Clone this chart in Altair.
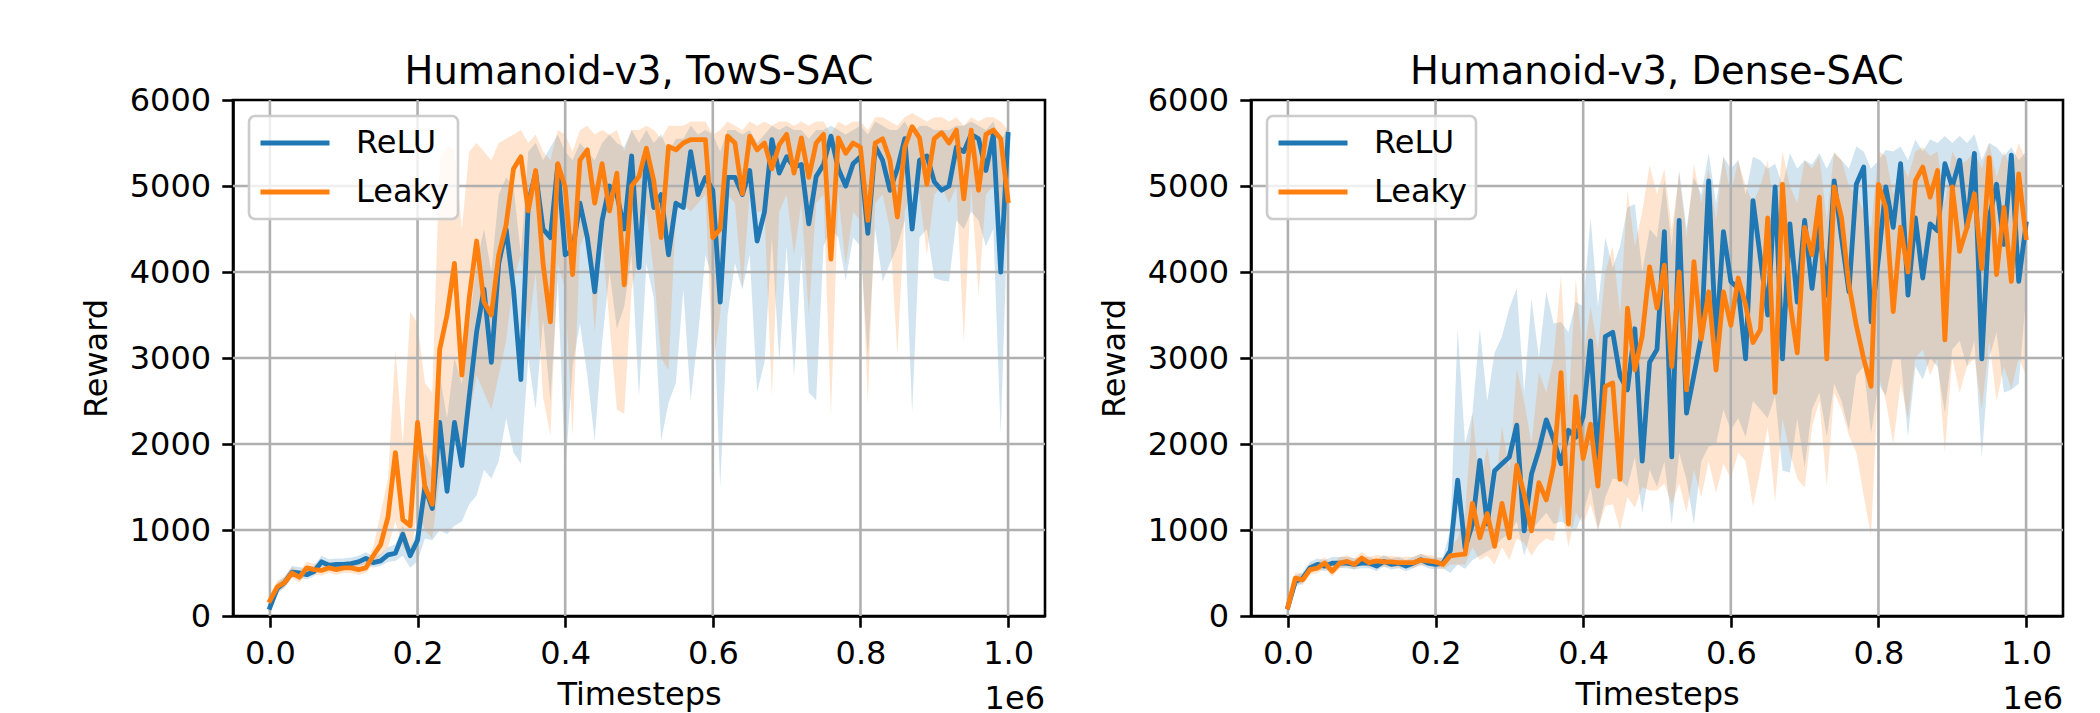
import altair as alt
import pandas as pd

# ---------------- data ----------------
STEPS = list(range(0, 1000001, 10000))          # evaluation timesteps
X_TICKS = [0, 200000, 400000, 600000, 800000, 1000000]
Y_TICKS = [0, 1000, 2000, 3000, 4000, 5000, 6000]
GRID_Y = [1000, 2000, 3000, 4000, 5000]
SERIES = ["ReLU", "Leaky"]
COLORS = ["#1f77b4", "#ff7f0e"]
PANEL_TITLES = ["Humanoid-v3, TowS-SAC", "Humanoid-v3, Dense-SAC"]

# ---- Panel 1: TowS-SAC ----
tows_relu = [100, 320, 390, 510, 500, 480, 520, 630, 590, 600,
             600, 610, 630, 670, 620, 640, 710, 730, 950, 700,
             880, 1500, 1250, 2250, 1450, 2250, 1750, 2550, 3300, 3800,
             2950, 4100, 4500, 3800, 2750, 4800, 5150, 4500, 4400, 5250,
             4200, 4250, 4800, 4400, 3770, 4600, 5000, 4900, 4500, 5350,
             4050, 5350, 4750, 4900, 4200, 4800, 4750, 5400, 4900, 5100,
             4950, 3650, 5100, 5100, 4900, 5180, 4360, 4700, 5540, 5150,
             5340, 5220, 5250, 4560, 5110, 5250, 5580, 5200, 5000, 5260,
             5340, 4450, 5460, 5300, 4950, 5200, 5550, 4500, 5300, 5350,
             5050, 4950, 5000, 5450, 5400, 5600, 5550, 5180, 5600, 4000,
             5600]
tows_relu_lo = [45, 260, 330, 450, 445, 425, 465, 570, 535, 545,
                545, 555, 575, 610, 565, 580, 630, 640, 700, 560,
                640, 900, 880, 1000, 950, 1050, 1100, 1300, 1400, 1700,
                1600, 1800, 2300, 1900, 1770, 3000, 2400, 3450, 2500, 3900,
                1650, 2900, 3400, 2800, 2040, 3180, 4000, 3340, 3600, 4200,
                2550, 4100, 3700, 2040, 2480, 2710, 3800, 2510, 3260, 4200,
                3900, 1490, 3500, 4100, 3800, 4200, 2600, 2950, 4400, 2950,
                4300, 2790, 4200, 2600, 2510, 4300, 4500, 4400, 3900, 4400,
                4300, 3000, 4500, 3890, 4100, 4300, 4600, 2360, 4400, 4500,
                3930, 3900, 3890, 4600, 4500, 4700, 4600, 4300, 4500, 2120,
                4800]
tows_relu_hi = [170, 390, 460, 580, 570, 550, 590, 700, 660, 670,
                670, 680, 700, 740, 690, 720, 800, 830, 1050, 800,
                1000, 1900, 1700, 2800, 2300, 3000, 2700, 3400, 4100, 4500,
                4000, 4900, 5100, 5000, 4200, 5400, 5500, 5300, 5450, 5600,
                5400, 5300, 5500, 5400, 5300, 5500, 5600, 5500, 5450, 5650,
                5500, 5650, 5500, 5600, 5400, 5550, 5550, 5700, 5600, 5650,
                5600, 5400, 5650, 5650, 5600, 5650, 5500, 5600, 5700, 5650,
                5700, 5650, 5650, 5550, 5650, 5650, 5700, 5650, 5600, 5650,
                5700, 5600, 5750, 5700, 5650, 5650, 5750, 5600, 5700, 5700,
                5650, 5650, 5650, 5700, 5700, 5750, 5700, 5650, 5750, 5500,
                5700]
tows_leaky = [180, 340, 390, 500, 450, 560, 540, 530, 560, 540,
              560, 560, 540, 560, 700, 830, 1150, 1900, 1120, 1050,
              2250, 1500, 1300, 3100, 3500, 4100, 2800, 3700, 4360, 3650,
              3500, 4200, 4550, 5200, 5340, 4710, 5180, 4100, 3420, 5260,
              4990, 3970, 5300, 5420, 4800, 5260, 4710, 5150, 3850, 5000,
              5110, 5440, 5060, 4400, 5460, 5420, 5500, 5540, 5540, 5540,
              4400, 4500, 5580, 5500, 4910, 5580, 5420, 5500, 5200, 5480,
              5600, 5150, 5560, 5100, 5500, 5600, 4150, 5560, 5380, 5500,
              5450, 4600, 5500, 5550, 5300, 4640, 5450, 5690, 5560, 5020,
              5550, 5620, 5500, 5650, 4850, 5650, 4950, 5600, 5650, 5550,
              4830]
tows_leaky_lo = [120, 280, 330, 440, 390, 500, 480, 470, 500, 480,
                 500, 500, 480, 500, 600, 700, 800, 1100, 800, 700,
                 1200, 1000, 900, 1600, 1700, 2300, 1700, 2300, 2800, 2600,
                 2400, 2800, 3200, 3900, 4200, 3300, 4000, 2550, 2100, 4100,
                 3800, 2080, 4300, 4500, 3300, 4400, 3400, 2400, 2350, 3800,
                 4200, 4700, 4000, 3000, 2860, 4700, 4800, 4700, 4800, 4900,
                 2900, 3500, 4900, 4800, 3800, 4900, 4700, 4700, 2550, 4700,
                 4900, 4200, 4800, 3500, 4800, 4900, 2320, 4900, 4080, 4700,
                 4600, 2470, 4800, 4900, 4500, 3030, 4700, 5000, 4900, 4200,
                 4900, 5000, 4800, 5000, 3180, 5000, 3730, 4900, 5000, 4700,
                 4320]
tows_leaky_hi = [250, 410, 460, 570, 520, 630, 610, 600, 630, 610,
                 630, 630, 610, 630, 800, 1200, 1600, 3100, 2000, 3540,
                 3400, 2710, 2600, 5300, 5460, 5420, 4500, 5400, 5500, 5400,
                 5300, 5500, 5550, 5600, 5650, 5500, 5600, 5400, 5300, 5650,
                 5600, 5400, 5650, 5700, 5600, 5650, 5600, 5650, 5400, 5650,
                 5650, 5700, 5650, 5550, 5700, 5700, 5700, 5750, 5750, 5750,
                 5600, 5650, 5750, 5700, 5650, 5750, 5700, 5750, 5700, 5750,
                 5750, 5700, 5750, 5700, 5750, 5750, 5600, 5750, 5700, 5750,
                 5750, 5650, 5800, 5800, 5750, 5700, 5800, 5850, 5800, 5750,
                 5800, 5800, 5750, 5800, 5700, 5800, 5750, 5800, 5800, 5750,
                 5650]

# ---- Panel 2: Dense-SAC ----
dense_relu = [105, 400, 440, 560, 600, 580, 615, 615, 615, 600,
              615, 615, 580, 635, 600, 615, 580, 615, 655, 615,
              600, 615, 760, 1580, 790, 1070, 1810, 1070, 1690, 1770,
              1850, 2220, 990, 1650, 1930, 2280, 2050, 1770, 2160, 2080,
              2320, 3200, 1770, 3250, 3300, 2790, 2630, 3340, 1800, 2950,
              3100, 4470, 1850, 4600, 2360, 2800, 3250, 5060, 3180, 4470,
              3890, 3810, 2990, 4830, 4170, 3500, 4990, 2990, 4560, 3650,
              4600, 3810, 4520, 3730, 5060, 4400, 3770, 5020, 5220, 3420,
              4160, 4990, 4520, 5260, 3730, 4630, 3930, 4560, 4480, 5260,
              4990, 5300, 4520, 5380, 2990, 4630, 5020, 4320, 5360, 3890,
              4560]
dense_relu_lo = [45, 340, 380, 500, 540, 520, 555, 555, 555, 540,
                 555, 555, 520, 575, 540, 555, 520, 555, 595, 555,
                 540, 555, 500, 600, 550, 650, 700, 750, 800, 900,
                 950, 1100, 700, 1000, 1100, 1200, 1070, 1100, 1050, 990,
                 1200, 1500, 1000, 1380, 1600, 1580, 1500, 1850, 1200, 1700,
                 1500, 1800, 1070, 1900, 1580, 1070, 1800, 1970, 2000, 2400,
                 2160, 2300, 2080, 2500, 2400, 2300, 2560, 1690, 1670, 2300,
                 1730, 2400, 2600, 2080, 2700, 2500, 2160, 2800, 2900, 2120,
                 2700, 2560, 3000, 3000, 2080, 2900, 2750, 3000, 2900, 2360,
                 3100, 3200, 2900, 3200, 1850, 3000, 3300, 2600, 2630, 2700,
                 3730]
dense_relu_hi = [175, 470, 510, 630, 670, 650, 685, 685, 685, 670,
                 685, 685, 650, 705, 670, 685, 650, 685, 725, 685,
                 670, 685, 1000, 3340, 2000, 2360, 3340, 2500, 3060, 3250,
                 3580, 3810, 2600, 3690, 3000, 3770, 3400, 3420, 3300, 3650,
                 3600, 4630, 3600, 4400, 4050, 4300, 4750, 4790, 4000, 4500,
                 4400, 5060, 4300, 5180, 4500, 5100, 4900, 5380, 4800, 5340,
                 5200, 5300, 4900, 5340, 5300, 5200, 5260, 5000, 5380, 5200,
                 5300, 5250, 5380, 5200, 5380, 5300, 5200, 5460, 5400, 5200,
                 5300, 5420, 5400, 5460, 5300, 5540, 5400, 5540, 5500, 5580,
                 5500, 5580, 5500, 5600, 5300, 5500, 5450, 5350, 5450, 5300,
                 5400]
dense_leaky = [105, 440, 420, 540, 557, 615, 520, 615, 635, 600,
               675, 620, 640, 630, 630, 620, 620, 620, 650, 640,
               630, 600, 700, 710, 720, 1310, 910, 1190, 810, 1310,
               910, 1750, 1420, 990, 1550, 1350, 1750, 2830, 1070, 2550,
               1830, 2230, 1510, 2670, 2710, 1590, 3580, 2860, 3260, 4060,
               3580, 4080, 2900, 4000, 2630, 4120, 3220, 3770, 2860, 3770,
               3380, 3930, 3620, 3180, 3330, 4630, 2600, 5020, 3650, 3060,
               4520, 4200, 4870, 2990, 4990, 4630, 3850, 3380, 2990, 2670,
               5020, 4750, 3540, 4520, 4000, 5060, 5220, 4870, 5180, 3210,
               4990, 4240, 4520, 4910, 4040, 5330, 3970, 4750, 3890, 5140,
               4400]
dense_leaky_lo = [45, 380, 360, 480, 497, 555, 460, 555, 575, 540,
                  615, 560, 580, 570, 570, 560, 560, 560, 590, 580,
                  570, 540, 600, 600, 600, 800, 650, 700, 600, 800,
                  650, 900, 850, 700, 830, 900, 870, 1300, 800, 1200,
                  1070, 1300, 1000, 1280, 1300, 1000, 1380, 1260, 1500, 1460,
                  1460, 1540, 1300, 1540, 1200, 1700, 1380, 1800, 1430, 1770,
                  1600, 1900, 1800, 1270, 1700, 2200, 1330, 2300, 1900, 1600,
                  1490, 2200, 2500, 1500, 2600, 2400, 2100, 1900, 1400, 930,
                  2800, 2500, 2000, 2700, 2300, 3000, 3100, 2800, 3000, 1900,
                  3000, 2600, 2900, 3000, 2400, 3200, 2500, 2900, 2640, 3000,
                  2800]
dense_leaky_hi = [175, 510, 490, 610, 627, 685, 590, 685, 705, 670,
                  745, 690, 710, 700, 700, 690, 690, 690, 720, 710,
                  700, 670, 800, 900, 1200, 2360, 1500, 1970, 1400, 2200,
                  1700, 2870, 2500, 2000, 2830, 2600, 3000, 3970, 2400, 3930,
                  3000, 3600, 3100, 4000, 4300, 3500, 4950, 4300, 4700, 5240,
                  4900, 5200, 4500, 5150, 4400, 5260, 4800, 5200, 4600, 5340,
                  4900, 5300, 5000, 4800, 5000, 5300, 4600, 5400, 5000, 4800,
                  5300, 5200, 5350, 4600, 5400, 5300, 5000, 4900, 4700, 4500,
                  5400, 5350, 4900, 5300, 5100, 5400, 5450, 5350, 5400, 4800,
                  5400, 5250, 5300, 5400, 5200, 5500, 5100, 5400, 5200, 5500,
                  5300]

# ---------------- styling ----------------
FONT = "DejaVu Sans"
W, H = 812, 516
LW = 4.8
SPINE = 2.6
FS = 32
TICK = 11.2


def make_df(relu, relu_lo, relu_hi, leaky, leaky_lo, leaky_hi):
    rows = []
    for name, m, lo, hi in [("ReLU", relu, relu_lo, relu_hi),
                            ("Leaky", leaky, leaky_lo, leaky_hi)]:
        for s, a, b, c in zip(STEPS, m, lo, hi):
            rows.append({"step": s, "series": name, "mean": a, "lo": b, "hi": c})
    return pd.DataFrame(rows)


def panel(title, df):
    xscale = alt.Scale(domain=[-50000, 1050000], nice=False, zero=False)
    yscale = alt.Scale(domain=[0, 6000], nice=False, zero=False)
    xaxis = alt.Axis(values=X_TICKS, title="Timesteps",
                     labelExpr="format(datum.value / 1000000, '.1f')")
    yaxis = alt.Axis(values=Y_TICKS, format="d", title="Reward")
    legend = alt.Legend(title=None, orient="none", legendX=16, legendY=16,
                        symbolType="stroke", symbolSize=4761,
                        symbolStrokeWidth=LW, labelFontSize=FS, labelFont=FONT,
                        labelColor="black", labelOffset=24, padding=9,
                        clipHeight=36, rowPadding=13,
                        fillColor="rgba(255,255,255,0.8)",
                        strokeColor="#cccccc", cornerRadius=6, labelLimit=400)
    color = alt.Color("series:N", scale=alt.Scale(domain=SERIES, range=COLORS),
                      legend=legend)
    base = alt.Chart(df)

    bands = [
        base.transform_filter(alt.datum.series == s)
        .mark_area(fillOpacity=0.2, strokeWidth=0, color=c)
        .encode(x=alt.X("step:Q", scale=xscale, axis=xaxis),
                y=alt.Y("lo:Q", scale=yscale, axis=yaxis),
                y2="hi:Q")
        for s, c in zip(SERIES, COLORS)
    ]
    gridx = (alt.Chart(pd.DataFrame({"v": X_TICKS}))
             .mark_rule(color="#b0b0b0", strokeWidth=SPINE)
             .encode(x=alt.X("v:Q", scale=xscale, axis=xaxis)))
    gridy = (alt.Chart(pd.DataFrame({"v": GRID_Y}))
             .mark_rule(color="#b0b0b0", strokeWidth=SPINE)
             .encode(y=alt.Y("v:Q", scale=yscale, axis=yaxis)))
    lines = [
        base.transform_filter(alt.datum.series == s)
        .mark_line(strokeWidth=LW, strokeJoin="round", strokeCap="square")
        .encode(x=alt.X("step:Q", scale=xscale, axis=xaxis),
                y=alt.Y("mean:Q", scale=yscale, axis=yaxis),
                color=color)
        for s in SERIES
    ]
    offset_text = (alt.Chart(pd.DataFrame({"t": ["1e6"]}))
                   .mark_text(align="right", baseline="alphabetic", font=FONT,
                              fontSize=FS, color="black")
                   .encode(text="t:N", x=alt.value(W), y=alt.value(H + 93)))
    return alt.layer(*bands, gridx, gridy, *lines, offset_text).properties(
        width=W, height=H,
        title=alt.TitleParams(title, font=FONT, fontSize=38.4, fontWeight="normal",
                              color="black", anchor="middle", frame="group",
                              offset=-8),
    )


p1 = panel(PANEL_TITLES[0], make_df(tows_relu, tows_relu_lo, tows_relu_hi,
                                     tows_leaky, tows_leaky_lo, tows_leaky_hi))
p2 = panel(PANEL_TITLES[1], make_df(dense_relu, dense_relu_lo, dense_relu_hi,
                                     dense_leaky, dense_leaky_lo, dense_leaky_hi))

chart = (
    alt.hconcat(p1, p2, spacing=206, bounds="flush")
    .resolve_scale(color="independent")
    .resolve_legend(color="independent")
    .properties(padding={"left": 70, "top": 43, "right": 5, "bottom": 0},
                background="white")
    .configure_view(stroke="black", strokeWidth=SPINE)
    .configure_axis(labelFont=FONT, labelFontSize=FS, labelColor="black",
                    titleFont=FONT, titleFontSize=FS, titleFontWeight="normal",
                    titleColor="black", tickSize=TICK, tickWidth=SPINE,
                    tickColor="black", domainColor="black", domainWidth=SPINE,
                    labelPadding=TICK, grid=False, labelFlush=False,
                    labelOverlap=False, zindex=1)
    .configure_axisX(titlePadding=10)
    .configure_axisY(titlePadding=16)
    .configure_legend(strokeWidth=SPINE)
)

chart.save("out.html", embed_options={"renderer": "svg", "actions": False})
